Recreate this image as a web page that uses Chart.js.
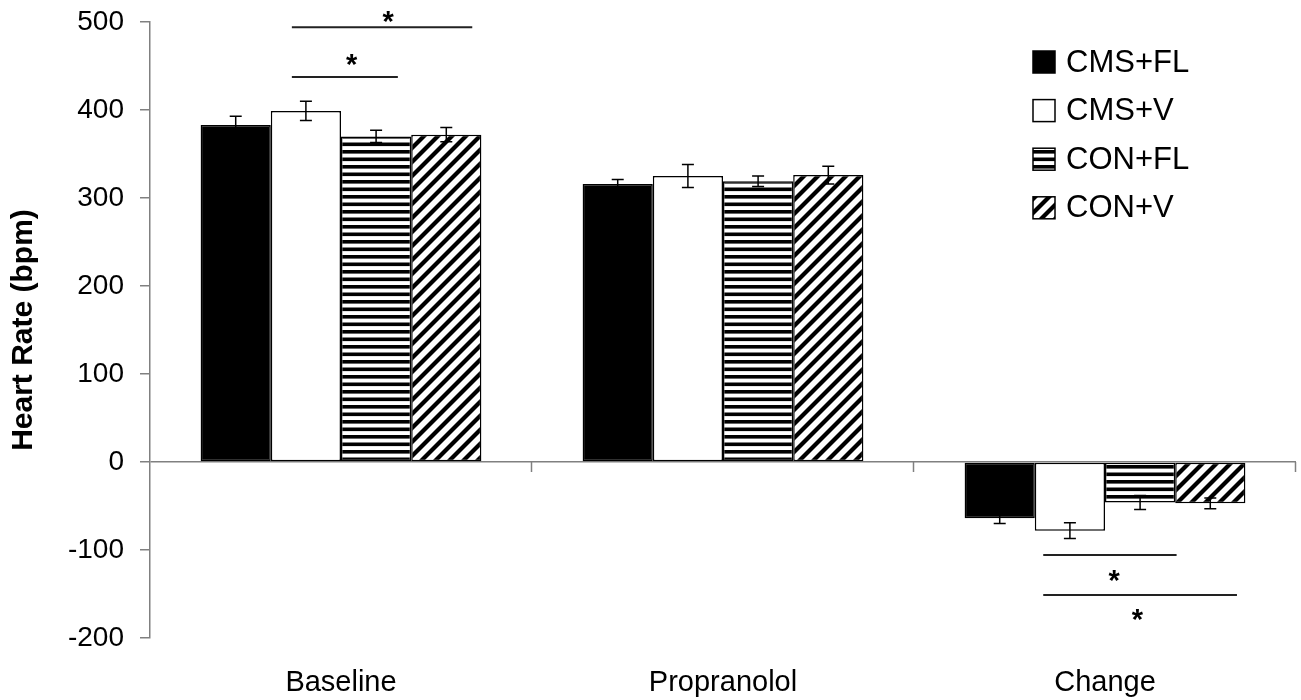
<!DOCTYPE html>
<html>
<head>
<meta charset="utf-8">
<script src="https://cdn.jsdelivr.net/npm/chart.js@4/dist/chart.umd.min.js"></script>
<style>
html,body{margin:0;padding:0;background:#fff;}
#c{display:block;}
</style>
</head>
<body>
<canvas id="c" width="1301" height="700"></canvas>
<script>
// ---- data ----
const categories = ['Baseline', 'Propranolol', 'Change'];
const seriesNames = ['CMS+FL', 'CMS+V', 'CON+FL', 'CON+V'];
const cmsFl = [383, 316, -64];
const cmsFlErr = [10, 5, 6];
const cmsV = [399, 325, -78];
const cmsVErr = [11, 13, 9];
const conFl = [370, 319, -46];
const conFlErr = [7, 6, 8];
const conV = [372, 326, -47];
const conVErr = [8, 10, 6];
const yMin = -200, yMax = 500, yStep = 100;
const yTitle = 'Heart Rate (bpm)';
// significance markers: category, span in bar units within the group, level (data units), star
const sigCat = [0, 0, 2, 2];
const sigFrom = [1.3, 1.3, 1.12, 1.12];
const sigTo = [3.87, 2.81, 3.02, 3.88];
const sigLevel = [494, 437.5, -105.7, -151];
const sigStarPos = [2.67, 2.15, 2.13, 2.46];
const sigStarLevel = [508, 459, -127, -171.5];

// ---- patterns ----
function hPattern() {
  const c = document.createElement('canvas');
  c.width = 10; c.height = 15;
  const g = c.getContext('2d');
  g.fillStyle = '#fff'; g.fillRect(0, 0, 10, 15);
  g.fillStyle = '#000';
  g.fillRect(0, 0, 10, 3.6);
  g.fillRect(0, 7.5, 10, 3.6);
  return g.createPattern(c, 'repeat');
}
function dPattern() {
  const s = 14;
  const c = document.createElement('canvas');
  c.width = s; c.height = s;
  const g = c.getContext('2d');
  g.fillStyle = '#fff'; g.fillRect(0, 0, s, s);
  g.strokeStyle = '#000'; g.lineWidth = 4.2;
  for (let k = -1; k <= 1; k++) {
    g.beginPath();
    g.moveTo(k * s - 2, s + 2);
    g.lineTo(k * s + s + 2, -2);
    g.stroke();
  }
  return g.createPattern(c, 'repeat');
}
const fills = ['#000', '#fff', hPattern(), dPattern()];
const values = [cmsFl, cmsV, conFl, conV];
const errors = [cmsFlErr, cmsVErr, conFlErr, conVErr];

const FONT = '"Liberation Sans", Arial, sans-serif';

const overlay = {
  id: 'overlay',
  afterDatasetsDraw(chart) {
    const ctx = chart.ctx;
    const ys = chart.scales.y;
    const area = chart.chartArea;
    const y0 = ys.getPixelForValue(0);
    ctx.save();
    // category boundary ticks on zero line
    ctx.strokeStyle = '#808080';
    ctx.lineWidth = 1.5;
    const catW = (area.right - area.left) / categories.length;
    for (let i = 1; i <= categories.length; i++) {
      const x = Math.round(area.left + i * catW) - 0.5;
      ctx.beginPath(); ctx.moveTo(x, y0); ctx.lineTo(x, y0 + 10); ctx.stroke();
    }
    // error bars
    ctx.strokeStyle = '#000';
    ctx.lineWidth = 1.5;
    values.forEach((vals, d) => {
      const meta = chart.getDatasetMeta(d);
      meta.data.forEach((bar, i) => {
        const v = vals[i], e = errors[d][i];
        const yt = ys.getPixelForValue(v + e), yb = ys.getPixelForValue(v - e);
        const x = bar.x;
        ctx.beginPath();
        ctx.moveTo(x, yt); ctx.lineTo(x, yb);
        ctx.moveTo(x - 6, yt); ctx.lineTo(x + 6, yt);
        ctx.moveTo(x - 6, yb); ctx.lineTo(x + 6, yb);
        ctx.stroke();
      });
    });
    // significance lines
    const m0 = chart.getDatasetMeta(0);
    ctx.strokeStyle = '#222';
    ctx.lineWidth = 2;
    ctx.fillStyle = '#000';
    ctx.font = 'bold 29px ' + FONT;
    ctx.textAlign = 'center';
    ctx.textBaseline = 'alphabetic';
    for (let k = 0; k < sigCat.length; k++) {
      const b = m0.data[sigCat[k]];
      const left = b.x - b.width / 2, w = b.width;
      const y = ys.getPixelForValue(sigLevel[k]);
      ctx.beginPath();
      ctx.moveTo(left + sigFrom[k] * w, y);
      ctx.lineTo(left + sigTo[k] * w, y);
      ctx.stroke();
      const sy = ys.getPixelForValue(sigStarLevel[k]);
      ctx.fillText('*', left + sigStarPos[k] * w, sy + 0.55 * 29);
    }
    // legend
    ctx.font = '31px ' + FONT;
    ctx.textAlign = 'left';
    ctx.textBaseline = 'middle';
    chart.data.datasets.forEach((ds, d) => {
      const cy = 62 + d * 48.6;
      const sx = 1033, sz = 22;
      ctx.fillStyle = ds.backgroundColor;
      ctx.fillRect(sx, cy - sz / 2, sz, sz);
      ctx.strokeStyle = '#000';
      ctx.lineWidth = 1.5;
      ctx.strokeRect(sx, cy - sz / 2, sz, sz);
      ctx.fillStyle = '#000';
      ctx.fillText(ds.label, 1066, cy + 1);
    });
    ctx.restore();
  }
};

new Chart(document.getElementById('c'), {
  type: 'bar',
  data: {
    labels: categories,
    datasets: seriesNames.map((name, d) => ({
      label: name,
      data: values[d],
      backgroundColor: fills[d],
      borderColor: '#000',
      borderWidth: 1.5,
      borderSkipped: false,
      categoryPercentage: 0.735,
      barPercentage: 1.0
    }))
  },
  options: {
    responsive: false,
    animation: false,
    devicePixelRatio: 1,
    layout: { padding: { left: 0, right: 5, top: 22, bottom: 0 } },
    plugins: { legend: { display: false }, tooltip: { enabled: false } },
    scales: {
      x: {
        grid: { display: false, drawTicks: false },
        border: { display: false },
        ticks: { color: '#000', font: { family: FONT, size: 29 }, padding: 28 },
        afterFit(s) { s.height = 62; s.paddingLeft = 0; s.paddingRight = 0; }
      },
      y: {
        min: yMin, max: yMax,
        ticks: { stepSize: yStep, color: '#000', font: { family: FONT, size: 28 }, padding: 16 },
        grid: {
          color: (c) => (c.tick && c.tick.value === 0 ? '#808080' : 'rgba(0,0,0,0)'),
          tickColor: '#808080',
          tickLength: 10,
          lineWidth: 1.5,
          drawOnChartArea: true
        },
        border: { display: true, color: '#808080', width: 1.5 },
        title: { display: true, text: yTitle, color: '#000', font: { family: FONT, size: 30, weight: 'bold' }, padding: { top: 6, bottom: 0 } },
        afterFit(s) { s.width = 150; s.paddingTop = 0; s.paddingBottom = 0; }
      }
    }
  },
  plugins: [overlay]
});
</script>
</body>
</html>
